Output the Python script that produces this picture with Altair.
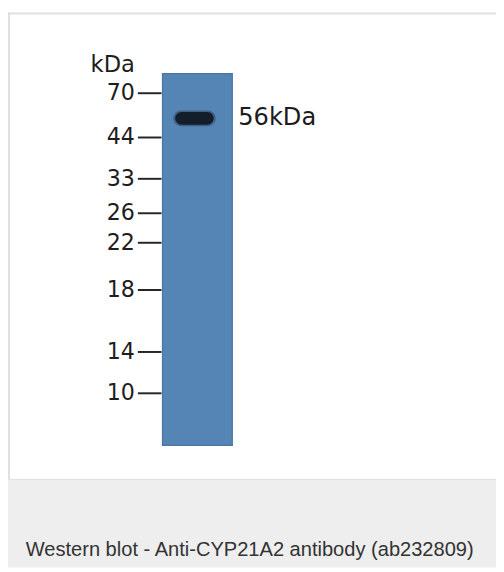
import altair as alt
import pandas as pd

# Marker ladder (kDa) and migration distance from the top of the lane (px in the blot image)
marker_kda = ["70", "44", "33", "26", "22", "18", "14", "10"]
marker_migration = [20, 65, 107, 142, 172, 220, 283, 325]

# Detected band
band_label = ["56kDa"]
band_migration = [45.5]

# Lane extent (migration units)
lane_start = [0]
lane_end = [378]

unit_label = ["kDa"]
caption = ["Western blot - Anti-CYP21A2 antibody (ab232809)"]

W, H = 496, 564
yscale = alt.Scale(domain=[0, 378], range=[62, 440], nice=False, zero=False)

one = pd.DataFrame({"a": [0]})
markers = pd.DataFrame({"kda": marker_kda, "migration": marker_migration})
band = pd.DataFrame({"label": band_label, "migration": band_migration})
lane = pd.DataFrame({"start": lane_start, "end": lane_end})

caption_bg = alt.Chart(one).mark_rect(color="#edeeed").encode(
    x=alt.value(0), x2=alt.value(W), y=alt.value(474), y2=alt.value(H)
)
sep = alt.Chart(one).mark_rule(color="#e0e0e0", strokeWidth=1).encode(
    x=alt.value(0), x2=alt.value(W), y=alt.value(474.5)
)
left_border = alt.Chart(one).mark_rect(color="#e0e0e0").encode(
    x=alt.value(0), x2=alt.value(2), y=alt.value(0), y2=alt.value(474)
)
top_border = alt.Chart(one).mark_rect(color="#e0e0e0").encode(
    x=alt.value(0), x2=alt.value(W), y=alt.value(0), y2=alt.value(2)
)

lane_rect = alt.Chart(lane).mark_rect(
    color="#5485b4", stroke="#4a76a1", strokeWidth=1.2
).encode(
    x=alt.value(157), x2=alt.value(228),
    y=alt.Y("start:Q", scale=yscale, axis=None), y2="end:Q",
)

band_halo = alt.Chart(band).transform_calculate(
    top="datum.migration - 8", bot="datum.migration + 8"
).mark_rect(color="#2b4461", opacity=0.55, cornerRadius=8).encode(
    x=alt.value(168), x2=alt.value(211),
    y=alt.Y("top:Q", scale=yscale, axis=None), y2="bot:Q",
)
band_core = alt.Chart(band).transform_calculate(
    top="datum.migration - 6.5", bot="datum.migration + 6.5"
).mark_rect(color="#141e2a", cornerRadius=6.5).encode(
    x=alt.value(170), x2=alt.value(209),
    y=alt.Y("top:Q", scale=yscale, axis=None), y2="bot:Q",
)
band_text = alt.Chart(band).mark_text(
    align="left", baseline="middle", fontSize=24.5, font="DejaVu Sans", color="#1c1c1c"
).encode(
    x=alt.value(234), y=alt.Y("migration:Q", scale=yscale, axis=None), text="label:N"
)

ticks = alt.Chart(markers).mark_rule(color="#262626", strokeWidth=2).encode(
    x=alt.value(132), x2=alt.value(156),
    y=alt.Y("migration:Q", scale=yscale, axis=None),
)
labels = alt.Chart(markers).mark_text(
    align="right", baseline="middle", fontSize=22.5, font="DejaVu Sans", color="#1e1e1e"
).encode(
    x=alt.value(129), y=alt.Y("migration:Q", scale=yscale, axis=None), text="kda:N"
)
unit = alt.Chart(pd.DataFrame({"t": unit_label})).mark_text(
    align="right", baseline="middle", fontSize=23, font="DejaVu Sans", color="#1e1e1e"
).encode(x=alt.value(129), y=alt.value(53), text="t:N")

cap = alt.Chart(pd.DataFrame({"t": caption})).mark_text(
    align="left", baseline="alphabetic", fontSize=20.4, font="Liberation Sans", color="#333333"
).encode(x=alt.value(18), y=alt.value(552), text="t:N")

chart = alt.layer(
    caption_bg, sep, left_border, top_border, lane_rect, band_halo, band_core,
    band_text, ticks, labels, unit, cap
).properties(
    width=W, height=H, padding=0, autosize=alt.AutoSizeParams(type="none"),
    background="white"
).configure_view(stroke=None)

chart.save("out.html", embed_options={"renderer": "svg", "actions": False})
